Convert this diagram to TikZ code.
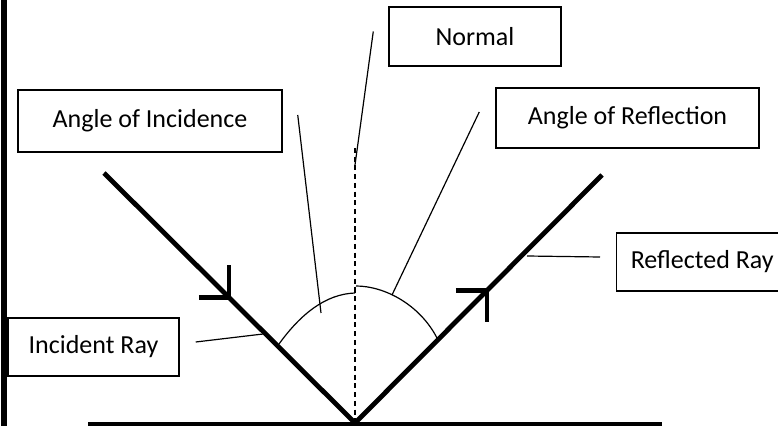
\documentclass[tikz,border=0pt]{standalone}
\usepackage{fontspec}
\setmainfont{Carlito}
\begin{document}
\begin{tikzpicture}[x=0.025cm,y=-0.025cm,line join=miter]
\tikzset{
  labelbox/.style={draw,line width=1pt,inner sep=0pt,font=\fontsize{18.5}{22}\selectfont},
  ray/.style={line width=3.4pt},
  leader/.style={line width=0.85pt},
}
\useasboundingbox (0,0) rectangle (778,426);

% edge and mirror
\draw[line width=4.2pt] (4,0) -- (4,426);
\draw[line width=3.4pt] (88,424) -- (662,424);

\coordinate (hit) at (355,423);
\coordinate (incstart) at (104,173);
\coordinate (refend) at (602,175);
\coordinate (normaltop) at (355,148);

% rays with their marks
\draw[ray] (incstart) -- (hit) coordinate[pos=0.498] (incmark);
\draw[ray] (hit) -- (refend) coordinate[pos=0.534] (refmark);
\draw[ray] (incmark) ++(-30,0) -- (incmark) -- ++(0,-32);
\draw[ray] (refmark) ++(-31,0) -- (refmark) -- ++(0,31);

% normal
\draw[line width=0.9pt,dash pattern=on 3.6pt off 2.6pt] (normaltop) -- (hit);

% angle arcs
\draw[leader] (279,344) .. controls (300,315) and (325,294) .. (355,293);
\draw[leader] (356,286) .. controls (385,286) and (420,305) .. (437,338);

% labels
\node[labelbox,minimum width=4.3cm,minimum height=1.475cm] (normalbox) at (475,36.5) {Normal};
\node[labelbox,minimum width=6.6cm,minimum height=1.55cm] (incbox) at (150,121) {Angle of Incidence};
\node[labelbox,minimum width=6.575cm,minimum height=1.5cm] (refbox) at (627.5,118) {Angle of Reflection};
\node[labelbox,minimum width=4.275cm,minimum height=1.45cm] (incraybox) at (93.5,347) {Incident Ray};
\node[labelbox,minimum width=4.275cm,minimum height=1.45cm,anchor=west] (refraybox) at (616,262) {Reflected Ray};

\coordinate (normaltip) at (355,165);
\coordinate (inctip) at (321,313);
\coordinate (reftip) at (392,295);
\coordinate (incraytip) at (263,334);
\coordinate (refraytip) at (527,256);

\draw[leader] (normalbox.west) ++(-15,-5) -- (normaltip);
\draw[leader] (incbox.east) ++(15,-6) -- (inctip);
\draw[leader] (refbox.west) ++(-16,-6) -- (reftip);
\draw[leader] (incraybox.east) ++(16,-5) -- (incraytip);
\draw[leader] (refraybox.west) ++(-16,-5) -- (refraytip);
\end{tikzpicture}
\end{document}
